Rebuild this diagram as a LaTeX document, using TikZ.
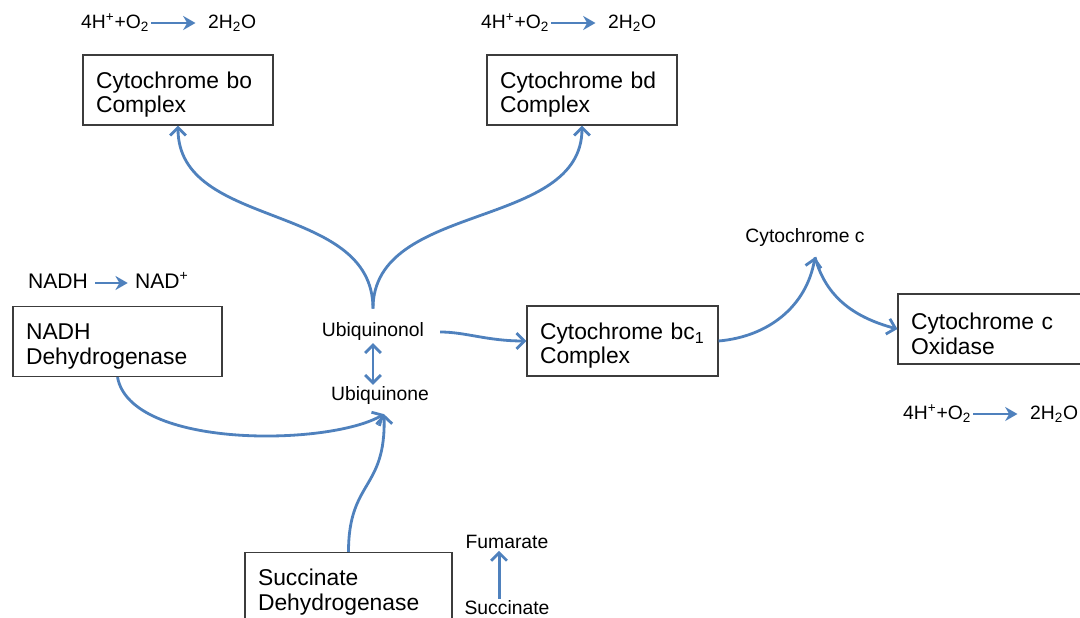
\documentclass[tikz,border=0pt]{standalone}
\usepackage{fontspec}
\setmainfont{Liberation Sans}
\usepackage{xcolor}
\definecolor{oblue}{RGB}{79,129,189}
\definecolor{boxgray}{RGB}{60,60,60}
\usetikzlibrary{positioning, calc, arrows.meta}
\tikzstyle{Arrow} = [
line width=1.6pt,
oblue,
-{Straight Barb[length=4.5pt, width=9pt]}]
\tikzstyle{DoubleArrow} = [
line width=1.6pt,
oblue,
{Straight Barb[length=4.5pt, width=9pt]}-{Straight Barb[length=4.5pt, width=9pt]}]
\tikzstyle{RxArrow} = [
line width=1.4pt,
oblue,
-{Stealth[length=7pt, width=8pt]}]
\tikzstyle{Box} = [
draw=boxgray,
line width=0.7pt,
minimum height=1.4cm,
inner xsep=0.26cm,
align=left,
text height=14.8pt,
font=\fontsize{13}{14}\selectfont]
\tikzstyle{Chem} = [inner sep=1pt, font=\fontsize{11}{13}\selectfont]
\tikzstyle{Rx} = [inner sep=1pt, text height=8pt, text depth=2pt,
font=\fontsize{11}{13}\selectfont]

\begin{document}
\begin{tikzpicture}[x=0.02cm, y=-0.02cm]
    \clip (0,0) rectangle (1080,618);

    \node [Box, text width=3.28cm] (bo) at (178,90) {Cytochrome bo\\Complex};
    \node [Box, text width=3.28cm] (bd) at (582,90) {Cytochrome bd\\Complex};
    \node [Box, text width=3.66cm] (nadh) at (117.5,341.5) {NADH\\Dehydrogenase};
    \node [Box, text width=3.30cm] (bc1) at (622.5,341) {Cytochrome bc\textsubscript{1}\\Complex};
    \node [Box, text width=3.48cm] (cox) at (998,329) {Cytochrome c\\Oxidase};
    \node [Box, text width=3.62cm, anchor=north] (sdh) at (348.5,552) {Succinate\\Dehydrogenase};

    \node [Chem] (ubqnol) at (373,332) {Ubiquinonol};
    \node [Chem] (ubqone) at (380,396) {Ubiquinone};
    \node [Chem] (cytc) at (805,238) {Cytochrome c};
    \node [Chem] (fum) at (507,542) {Fumarate};
    \node [Chem] (succ) at (507,608) {Succinate};

    \node [Rx, anchor=west] (o2a) at (79,23) {4H\textsuperscript{+}+O\textsubscript{2}};
    \node [Rx, anchor=west] (h2oa) at (206,23) {2H\textsubscript{2}O};
    \node [Rx, anchor=west] (o2b) at (479,23) {4H\textsuperscript{+}+O\textsubscript{2}};
    \node [Rx, anchor=west] (h2ob) at (606,23) {2H\textsubscript{2}O};
    \node [Rx, anchor=west] (o2c) at (901,414) {4H\textsuperscript{+}+O\textsubscript{2}};
    \node [Rx, anchor=west] (h2oc) at (1028,414) {2H\textsubscript{2}O};
    \node [Rx, anchor=west, font=\fontsize{12}{14}\selectfont] (nadhl) at (26,283) {NADH};
    \node [Rx, anchor=west, font=\fontsize{12}{14}\selectfont] (nadl) at (133,283) {NAD\textsuperscript{+}};

    \draw[RxArrow, shorten >=6pt] (o2a.east) -- (h2oa.west);
    \draw[RxArrow, shorten >=6pt] (o2b.east) -- (h2ob.west);
    \draw[RxArrow, shorten >=6pt] (o2c.east) -- (h2oc.west);
    \draw[RxArrow, shorten <=3pt, shorten >=3pt] (nadhl.east) -- (nadl.west);

    \draw[Arrow, shorten <=7pt] (ubqnol.north) .. controls +(0,-120) and +(0,105) .. (bo.south);
    \draw[Arrow, shorten <=7pt] (ubqnol.north) .. controls +(0,-120) and +(0,105) .. (bd.south);
    \draw[DoubleArrow] (ubqnol.south) -- (ubqnol.south |- ubqone.north);
    \draw[Arrow] (nadh.south) .. controls +(13,72) and +(-55,32) .. ([shift={(4,7)}]ubqone.south);
    \draw[Arrow] (sdh.north) .. controls +(0,-72) and +(2,76) .. ([shift={(4,7)}]ubqone.south);
    \draw[Arrow, shorten <=8pt] (ubqnol.east) to [out=0, in=180] (bc1.west);
    \draw[Arrow] (bc1.east) to [out=5, in=-100] ([shift={(10,8)}]cytc.south);
    \draw[Arrow] ([shift={(10,8)}]cytc.south) to [out=-75, in=165] (cox.west);
    \draw[Arrow] ([xshift=-4.5pt]succ.north) -- ([xshift=-4.5pt]fum.south);
\end{tikzpicture}
\end{document}
